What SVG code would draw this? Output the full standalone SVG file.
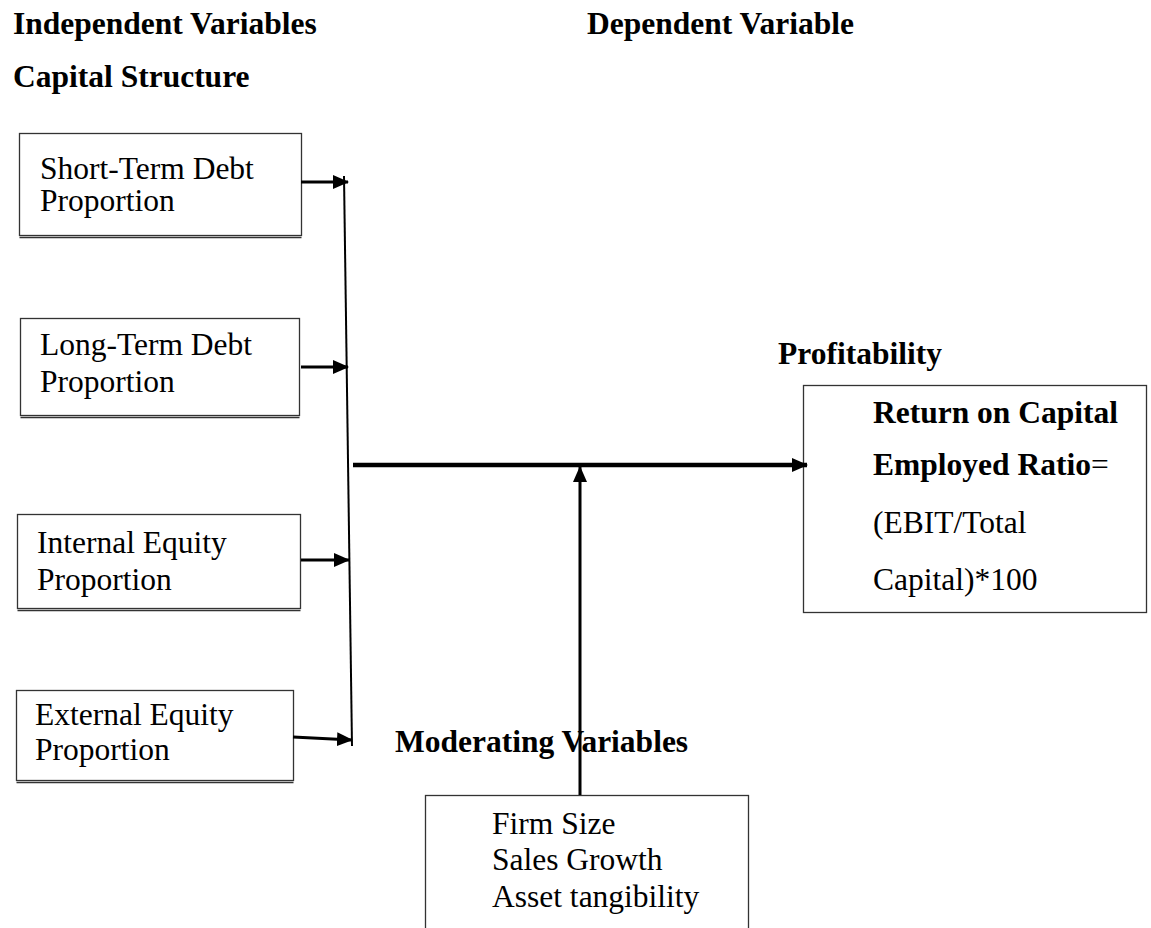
<svg xmlns="http://www.w3.org/2000/svg" width="1151" height="928" viewBox="0 0 1151 928">
<style>
text{font-family:"Liberation Serif","Times New Roman",serif;font-size:31.5px;fill:#000}
.b{font-weight:bold}
.box{fill:#fff;stroke:#333;stroke-width:1.3}
.sh{stroke:#333;stroke-width:1.3}
.c{stroke:#000;fill:none}
</style>
<defs>
<marker id="ah" markerUnits="userSpaceOnUse" markerWidth="16" markerHeight="14" refX="15" refY="7" orient="auto">
<path d="M0,0 L16,7 L0,14 Z" fill="#000"/>
</marker>
</defs>
<rect width="1151" height="928" fill="#fff"/>
<g id="titles">
<text class="b" x="13" y="34">Independent Variables</text>
<text class="b" x="587" y="34">Dependent Variable</text>
<text class="b" x="13" y="87">Capital Structure</text>
<text class="b" x="778" y="364">Profitability</text>
<text class="b" x="395" y="752">Moderating Variables</text>
</g>
<g id="n-short">
<rect class="box" x="19.5" y="133.5" width="282" height="102"/>
<line class="sh" x1="19.5" y1="237.5" x2="301.5" y2="237.5"/>
<text x="40" y="179">Short-Term Debt</text>
<text x="40" y="211">Proportion</text>
</g>
<g id="n-long">
<rect class="box" x="20.5" y="318.5" width="279" height="97"/>
<line class="sh" x1="20.5" y1="417.5" x2="299.5" y2="417.5"/>
<text x="40" y="355">Long-Term Debt</text>
<text x="40" y="392">Proportion</text>
</g>
<g id="n-internal">
<rect class="box" x="17.5" y="514.5" width="283" height="94"/>
<line class="sh" x1="17.5" y1="610.5" x2="300.5" y2="610.5"/>
<text x="37" y="553">Internal Equity</text>
<text x="37" y="590">Proportion</text>
</g>
<g id="n-external">
<rect class="box" x="16.5" y="690.5" width="277" height="90"/>
<line class="sh" x1="16.5" y1="782.5" x2="293.5" y2="782.5"/>
<text x="35" y="725">External Equity</text>
<text x="35" y="760">Proportion</text>
</g>
<g id="n-roce">
<rect class="box" x="803.5" y="385.5" width="343" height="227"/>
<text class="b" x="873" y="423">Return on Capital</text>
<text x="873" y="475"><tspan class="b">Employed Ratio</tspan>=</text>
<text x="873" y="533">(EBIT/Total</text>
<text x="873" y="590">Capital)*100</text>
</g>
<g id="n-moderating">
<rect class="box" x="425.5" y="795.5" width="323" height="140"/>
<text x="492" y="834">Firm Size</text>
<text x="492" y="870">Sales Growth</text>
<text x="492" y="907">Asset tangibility</text>
</g>
<g id="connectors">
<line class="c" x1="344" y1="176" x2="352" y2="746" stroke-width="2"/>
<line class="c" x1="301" y1="182" x2="348" y2="182" stroke-width="3" marker-end="url(#ah)"/>
<line class="c" x1="301" y1="367" x2="348" y2="367" stroke-width="3" marker-end="url(#ah)"/>
<line class="c" x1="301" y1="560" x2="349" y2="560" stroke-width="3" marker-end="url(#ah)"/>
<line class="c" x1="293" y1="737" x2="352" y2="740" stroke-width="3" marker-end="url(#ah)"/>
<line class="c" x1="353" y1="465" x2="807" y2="465" stroke-width="4.5" marker-end="url(#ah)"/>
<line class="c" x1="580" y1="795" x2="580" y2="467" stroke-width="3" marker-end="url(#ah)"/>
</g>
</svg>
